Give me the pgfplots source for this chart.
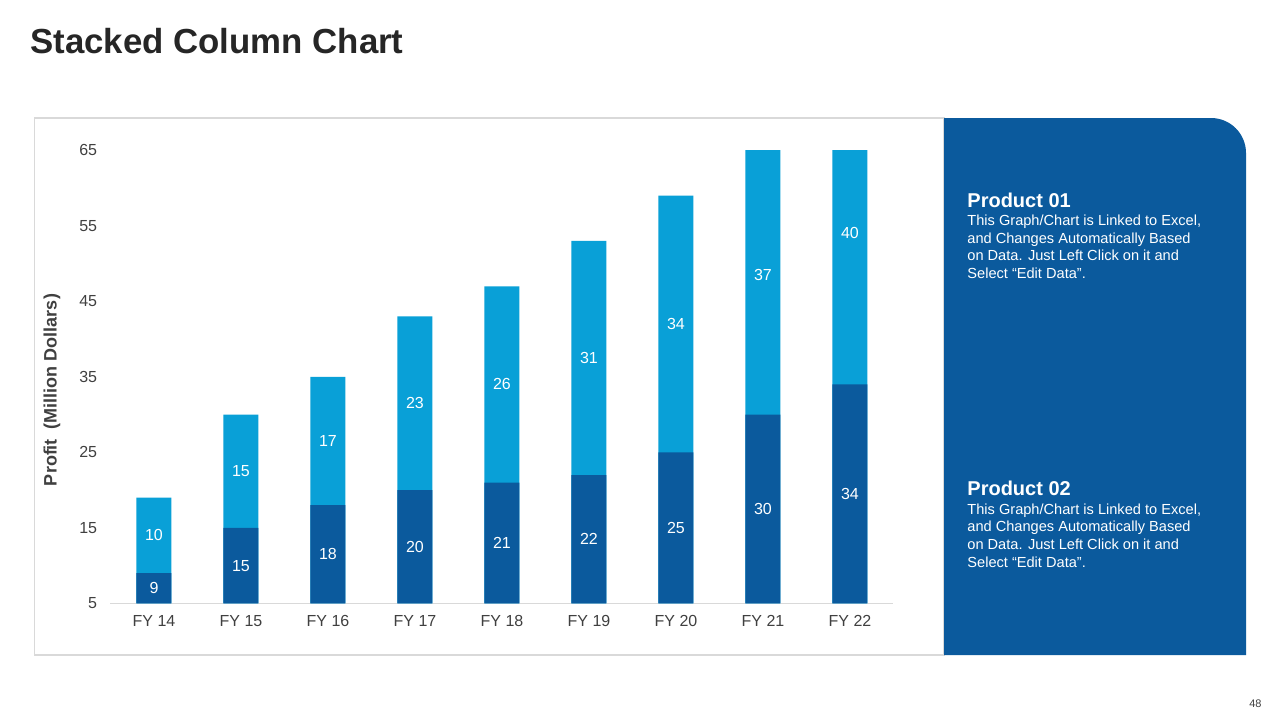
\documentclass[border=0pt]{standalone}
\usepackage{pgfplots}
\pgfplotsset{compat=1.18}
\usepackage{fontspec}
\setmainfont{Liberation Sans}
\definecolor{darkb}{RGB}{11,90,157}
\definecolor{lightb}{RGB}{9,160,215}
\definecolor{tickc}{RGB}{64,64,64}
\definecolor{gridc}{RGB}{217,217,217}
\begin{document}
\begin{tikzpicture}[x=0.5pt,y=0.5pt]
\useasboundingbox (0,0) rectangle (1280,720);
\fill[white] (0,0) rectangle (1280,720);
\draw[gridc, line width=0.6pt] (34.5,65) rectangle (944,602);
\fill[darkb] (944,65) -- (944,602) -- (1211,602) arc[start angle=90, end angle=0, radius=35] -- (1246,65) -- cycle;
\node[anchor=base west, inner sep=0pt, font=\fontsize{17.4}{20}\selectfont\bfseries, text=black!85] at (30,667) {Stacked Column Chart};
\node[rotate=90, inner sep=0pt, font=\bfseries\fontsize{9}{10}\selectfont, text=tickc] at (52,330) {Profit\ \ (Million Dollars)};
\node[anchor=base east, inner sep=0pt, font=\fontsize{5.5}{6}\selectfont, text=tickc] at (1262,13) {48};
% panel texts
\begin{scope}[every node/.style={anchor=base west, inner sep=0pt, text=white}]
\node[font=\bfseries\fontsize{10}{12}\selectfont] at (967,513) {Product 01};
\node[font=\fontsize{7.3}{8.8}\selectfont] at (967,495) {This Graph/Chart is Linked to Excel,};
\node[font=\fontsize{7.3}{8.8}\selectfont] at (967,477) {and Changes Automatically Based};
\node[font=\fontsize{7.3}{8.8}\selectfont] at (967,460) {on Data. Just Left Click on it and};
\node[font=\fontsize{7.3}{8.8}\selectfont] at (967,442) {Select \textquotedblleft Edit Data\textquotedblright.};
\node[font=\bfseries\fontsize{10}{12}\selectfont] at (967,225) {Product 02};
\node[font=\fontsize{7.3}{8.8}\selectfont] at (967,206) {This Graph/Chart is Linked to Excel,};
\node[font=\fontsize{7.3}{8.8}\selectfont] at (967,189) {and Changes Automatically Based};
\node[font=\fontsize{7.3}{8.8}\selectfont] at (967,171) {on Data. Just Left Click on it and};
\node[font=\fontsize{7.3}{8.8}\selectfont] at (967,153) {Select \textquotedblleft Edit Data\textquotedblright.};
\end{scope}
\begin{axis}[
  at={(127,154.5)}, anchor=south west, scale only axis,
  width=391.5pt, height=226.5pt,
  xmin=-0.5, xmax=8.5, ymin=5, ymax=65,
  xtick={0,1,2,3,4,5,6,7,8},
  xticklabels={FY 14,FY 15,FY 16,FY 17,FY 18,FY 19,FY 20,FY 21,FY 22},
  ytick={5,15,25,35,45,55,65},
  yticklabels={5,15,25,35,45,55,65},
  axis lines*=left,
  x axis line style={-, draw=gridc, line width=0.75pt},
  y axis line style={draw=none},
  major tick length=0pt,
  ticklabel style={font=\fontsize{8}{9.6}\selectfont, text=tickc},
  yticklabel style={anchor=east, inner sep=0pt, xshift=-6.5pt},
  xticklabel style={anchor=north, inner sep=0pt, yshift=-6pt},
  every node near coord/.append style={anchor=center, inner sep=0pt, text=white, font=\fontsize{8}{9.6}\selectfont},
]
\addplot[ybar, bar width=17.5pt, bar shift=0pt, fill=lightb, draw=none] coordinates {(0,19) (1,30) (2,35) (3,43) (4,47) (5,53) (6,59) (7,67) (8,74)};
\addplot[ybar, bar width=17.5pt, bar shift=0pt, fill=darkb, draw=none] coordinates {(0,9) (1,15) (2,18) (3,20) (4,21) (5,22) (6,25) (7,30) (8,34)};
\addplot[draw=none, nodes near coords, point meta=explicit symbolic] table[meta=lab] {
x y lab
0 7 9
1 10 15
2 11.5 18
3 12.5 20
4 13 21
5 13.5 22
6 15 25
7 17.5 30
8 19.5 34
};
\addplot[draw=none, nodes near coords, point meta=explicit symbolic] table[meta=lab] {
x y lab
0 14 10
1 22.5 15
2 26.5 17
3 31.5 23
4 34 26
5 37.5 31
6 42 34
7 48.5 37
8 54 40
};
\end{axis}
\end{tikzpicture}
\end{document}
